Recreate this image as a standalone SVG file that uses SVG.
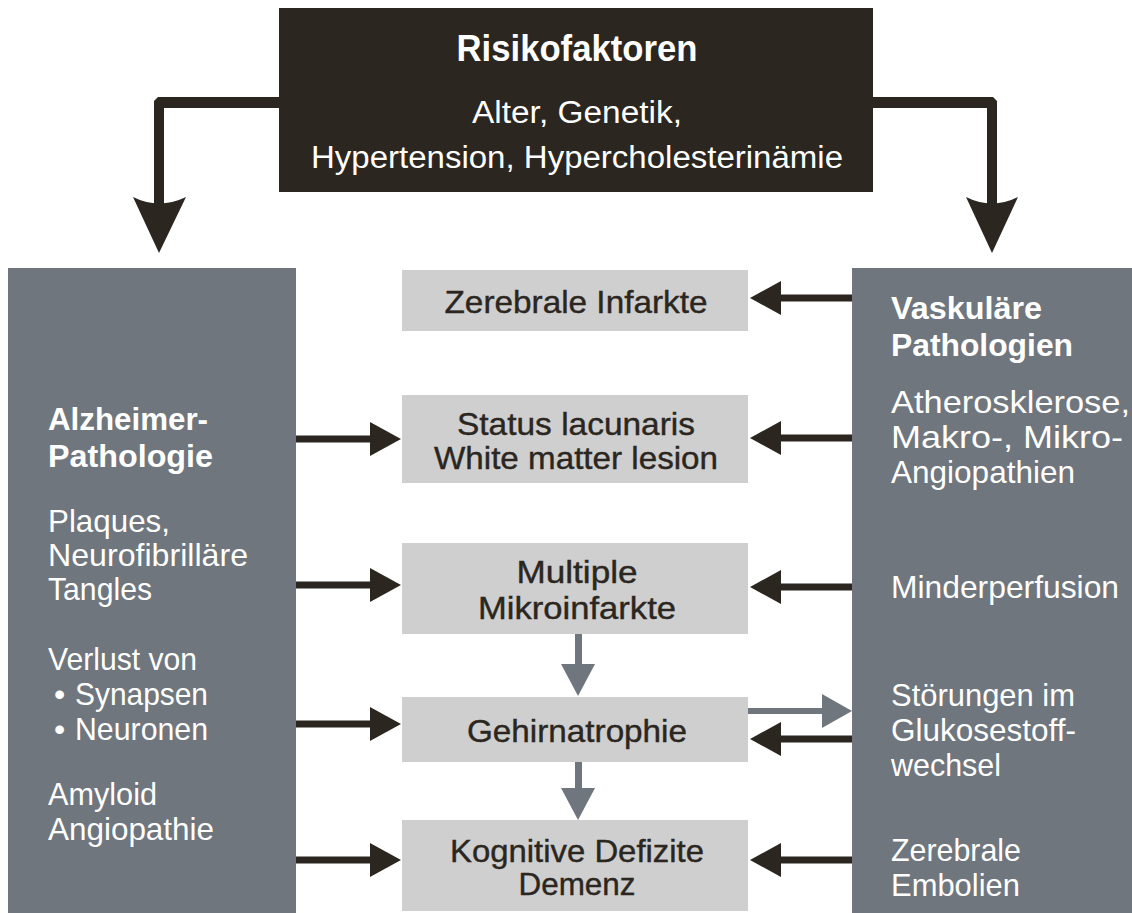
<svg xmlns="http://www.w3.org/2000/svg" width="1132" height="913" viewBox="0 0 1132 913">
<style>
text{font-family:"Liberation Sans",Arial,sans-serif;}
.dark{fill:#2b2620;}
.grey{fill:#6f767d;}
.light{fill:#cfcfcf;}
.w{fill:#ffffff;font-size:32px;}
.wb{fill:#ffffff;font-size:32px;font-weight:bold;}
.c{fill:#2b2620;font-size:32px;text-anchor:middle;stroke:#2b2620;stroke-width:0.4;}
.t{fill:#ffffff;font-size:31px;text-anchor:middle;}
.ab{fill:#2b2620;}
.ag{fill:#6f767d;}
</style>
<rect width="1132" height="913" fill="#ffffff"/>

<g id="connectors">
  <path class="ab" d="M279,97 L158,97 L154,101 L154,205 L164,205 L164,108 L279,108 Z"/>
  <path class="ab" d="M133,197 Q159,210 186,197 L159,253 Z"/>
  <path class="ab" d="M873,97 L993,97 L997,101 L997,205 L987,205 L987,108 L873,108 Z"/>
  <path class="ab" d="M966,197 Q992,210 1018,197 L992,253 Z"/>

  <rect class="ab" x="296" y="435.5" width="76" height="7"/>
  <polygon class="ab" points="370,422 401,439 370,456"/>
  <rect class="ab" x="296" y="581.5" width="76" height="7"/>
  <polygon class="ab" points="370,568 401,585 370,602"/>
  <rect class="ab" x="296" y="720.5" width="76" height="7"/>
  <polygon class="ab" points="370,707 401,724 370,741"/>
  <rect class="ab" x="296" y="856.5" width="76" height="7"/>
  <polygon class="ab" points="370,843 401,860 370,877"/>

  <rect class="ab" x="779" y="294.5" width="73" height="7"/>
  <polygon class="ab" points="781,281 750,298 781,315"/>
  <rect class="ab" x="779" y="434.5" width="73" height="7"/>
  <polygon class="ab" points="781,421 750,438 781,455"/>
  <rect class="ab" x="779" y="583.5" width="73" height="7"/>
  <polygon class="ab" points="781,570 750,587 781,604"/>
  <rect class="ab" x="779" y="735.5" width="73" height="7"/>
  <polygon class="ab" points="781,722 750,739 781,756"/>
  <rect class="ab" x="779" y="856.5" width="73" height="7"/>
  <polygon class="ab" points="781,843 750,860 781,877"/>

  <rect class="ag" x="748" y="708" width="76" height="6"/>
  <polygon class="ag" points="822,694 852,711 822,728"/>
  <rect class="ag" x="575" y="634" width="7" height="32"/>
  <polygon class="ag" points="561,664 595,664 578,696"/>
  <rect class="ag" x="575" y="762" width="7" height="28"/>
  <polygon class="ag" points="561,788 595,788 578,820"/>
</g>

<g id="risikofaktoren">
  <rect class="dark" x="279" y="8" width="594" height="184"/>
  <text x="577" y="61" style="fill:#fff;font-size:37px;font-weight:bold;text-anchor:middle" textLength="241" lengthAdjust="spacingAndGlyphs">Risikofaktoren</text>
  <text class="t" x="577" y="123" textLength="210" lengthAdjust="spacingAndGlyphs">Alter, Genetik,</text>
  <text class="t" x="577" y="168" textLength="532" lengthAdjust="spacingAndGlyphs">Hypertension, Hypercholesterinämie</text>
</g>

<g id="alzheimer">
  <rect class="grey" x="8" y="268" width="288" height="645"/>
  <text class="wb" x="48" y="430" textLength="160" lengthAdjust="spacingAndGlyphs">Alzheimer-</text>
  <text class="wb" x="48" y="467" textLength="165" lengthAdjust="spacingAndGlyphs">Pathologie</text>
  <text class="w" x="48" y="532" textLength="122" lengthAdjust="spacingAndGlyphs">Plaques,</text>
  <text class="w" x="48" y="566" textLength="200" lengthAdjust="spacingAndGlyphs">Neurofibrilläre</text>
  <text class="w" x="48" y="600" textLength="104" lengthAdjust="spacingAndGlyphs">Tangles</text>
  <text class="w" x="48" y="670" textLength="149" lengthAdjust="spacingAndGlyphs">Verlust von</text>
  <text class="w" x="54" y="705">•</text>
  <text class="w" x="75" y="705" textLength="133" lengthAdjust="spacingAndGlyphs">Synapsen</text>
  <text class="w" x="54" y="740">•</text>
  <text class="w" x="75" y="740" textLength="133" lengthAdjust="spacingAndGlyphs">Neuronen</text>
  <text class="w" x="48" y="805" textLength="109" lengthAdjust="spacingAndGlyphs">Amyloid</text>
  <text class="w" x="48" y="840" textLength="166" lengthAdjust="spacingAndGlyphs">Angiopathie</text>
</g>

<g id="vaskulaer">
  <rect class="grey" x="852" y="268" width="280" height="645"/>
  <text class="wb" x="891" y="319" textLength="151" lengthAdjust="spacingAndGlyphs">Vaskuläre</text>
  <text class="wb" x="891" y="356" textLength="182" lengthAdjust="spacingAndGlyphs">Pathologien</text>
  <text class="w" x="891" y="413" textLength="239" lengthAdjust="spacingAndGlyphs">Atherosklerose,</text>
  <text class="w" x="891" y="448" textLength="232" lengthAdjust="spacingAndGlyphs">Makro-, Mikro-</text>
  <text class="w" x="891" y="483" textLength="184" lengthAdjust="spacingAndGlyphs">Angiopathien</text>
  <text class="w" x="891" y="598" textLength="228" lengthAdjust="spacingAndGlyphs">Minderperfusion</text>
  <text class="w" x="891" y="706" textLength="184" lengthAdjust="spacingAndGlyphs">Störungen im</text>
  <text class="w" x="891" y="741" textLength="185" lengthAdjust="spacingAndGlyphs">Glukosestoff-</text>
  <text class="w" x="891" y="776" textLength="110" lengthAdjust="spacingAndGlyphs">wechsel</text>
  <text class="w" x="891" y="861" textLength="130" lengthAdjust="spacingAndGlyphs">Zerebrale</text>
  <text class="w" x="891" y="896" textLength="129" lengthAdjust="spacingAndGlyphs">Embolien</text>
</g>

<g id="zerebrale-infarkte">
  <rect class="light" x="402" y="270" width="346" height="61"/>
  <text class="c" x="576" y="313" textLength="263" lengthAdjust="spacingAndGlyphs">Zerebrale Infarkte</text>
</g>
<g id="status-lacunaris">
  <rect class="light" x="402" y="395" width="346" height="88"/>
  <text class="c" x="576" y="435" textLength="238" lengthAdjust="spacingAndGlyphs">Status lacunaris</text>
  <text class="c" x="576" y="469" textLength="284" lengthAdjust="spacingAndGlyphs">White matter lesion</text>
</g>
<g id="multiple-mikroinfarkte">
  <rect class="light" x="402" y="543" width="346" height="91"/>
  <text class="c" x="577" y="583" textLength="121" lengthAdjust="spacingAndGlyphs">Multiple</text>
  <text class="c" x="577" y="619" textLength="198" lengthAdjust="spacingAndGlyphs">Mikroinfarkte</text>
</g>
<g id="gehirnatrophie">
  <rect class="light" x="402" y="697" width="346" height="65"/>
  <text class="c" x="577" y="742" textLength="220" lengthAdjust="spacingAndGlyphs">Gehirnatrophie</text>
</g>
<g id="kognitive-defizite">
  <rect class="light" x="402" y="820" width="346" height="91"/>
  <text class="c" x="577" y="862" textLength="254" lengthAdjust="spacingAndGlyphs">Kognitive Defizite</text>
  <text class="c" x="577" y="895" textLength="117" lengthAdjust="spacingAndGlyphs">Demenz</text>
</g>
</svg>
